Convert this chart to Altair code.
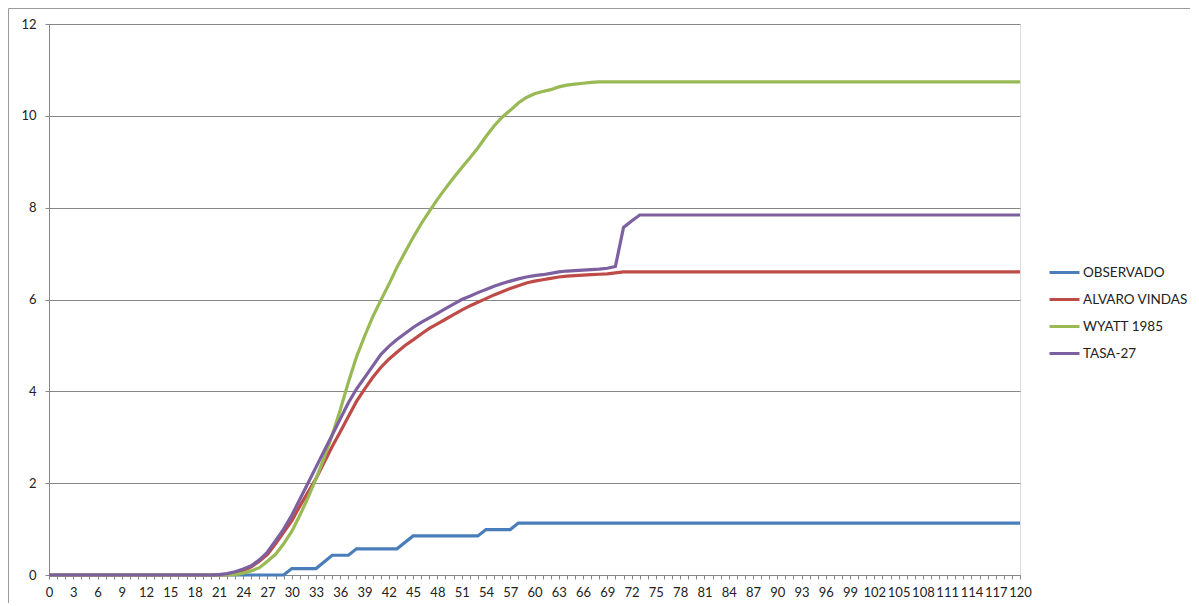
import altair as alt
import pandas as pd

SERIES = ["OBSERVADO", "ALVARO VINDAS", "WYATT 1985", "TASA-27"]
COLORS = ["#4A7EBB", "#BE4B48", "#98B954", "#7D60A0"]

obs_x = [0, 29, 30, 33, 35, 37, 38, 43, 45, 53, 54, 57, 58, 120]
obs_y = [0, 0, 0.14, 0.14, 0.43, 0.43, 0.57, 0.57, 0.85, 0.85, 0.99, 0.99, 1.13, 1.13]

alv_x = [0, 21, 22, 23, 24, 25, 26, 27, 28, 29, 30, 31, 32, 33, 34, 35, 36, 37, 38, 39,
         40, 41, 42, 43, 44, 45, 46, 47, 48, 49, 50, 51, 52, 53, 54, 55, 56, 57, 58, 59,
         60, 61, 62, 63, 64, 65, 66, 67, 68, 69, 70, 71, 120]
alv_y = [0, 0, 0.01, 0.04, 0.1, 0.18, 0.3, 0.45, 0.68, 0.93, 1.18, 1.5, 1.8, 2.1, 2.45, 2.8, 3.12, 3.45, 3.78, 4.05,
         4.3, 4.52, 4.7, 4.85, 5.0, 5.12, 5.25, 5.37, 5.47, 5.57, 5.67, 5.77, 5.86, 5.94, 6.02, 6.1, 6.17, 6.24, 6.3, 6.36,
         6.4, 6.43, 6.46, 6.49, 6.51, 6.52, 6.53, 6.54, 6.55, 6.56, 6.58, 6.6, 6.6]

wya_x = [0, 22, 23, 24, 25, 26, 27, 28, 29, 30, 31, 32, 33, 34, 35, 36, 37, 38, 39,
         40, 41, 42, 43, 44, 45, 46, 47, 48, 49, 50, 51, 52, 53, 54, 55, 56, 57, 58, 59,
         60, 61, 62, 63, 64, 65, 66, 67, 68, 120]
wya_y = [0, 0, 0.01, 0.04, 0.09, 0.16, 0.3, 0.45, 0.68, 0.95, 1.3, 1.68, 2.1, 2.55, 3.05, 3.6, 4.2, 4.75, 5.2,
         5.62, 5.98, 6.33, 6.7, 7.03, 7.35, 7.65, 7.92, 8.18, 8.42, 8.65, 8.87, 9.08, 9.3, 9.55, 9.78, 9.97, 10.12, 10.28, 10.4,
         10.48, 10.53, 10.57, 10.63, 10.67, 10.69, 10.71, 10.73, 10.74, 10.74]

tas_x = [0, 20, 21, 22, 23, 24, 25, 26, 27, 28, 29, 30, 31, 32, 33, 34, 35, 36, 37, 38, 39,
         40, 41, 42, 43, 44, 45, 46, 47, 48, 49, 50, 51, 52, 53, 54, 55, 56, 57, 58, 59,
         60, 61, 62, 63, 64, 65, 66, 67, 68, 69, 70, 71, 72, 73, 120]
tas_y = [0, 0, 0.01, 0.03, 0.07, 0.13, 0.2, 0.33, 0.5, 0.75, 1.0, 1.3, 1.65, 2.0, 2.35, 2.7, 3.05, 3.4, 3.75, 4.05, 4.3,
         4.55, 4.8, 4.98, 5.13, 5.26, 5.39, 5.5, 5.6, 5.7, 5.8, 5.9, 6.0, 6.07, 6.15, 6.22, 6.29, 6.35, 6.4, 6.45, 6.49,
         6.52, 6.54, 6.57, 6.6, 6.62, 6.63, 6.64, 6.65, 6.66, 6.68, 6.72, 7.57, 7.71, 7.84, 7.84]

x_ticks = list(range(0, 121))
y_ticks = [0, 2, 4, 6, 8, 10, 12]

rows = []
for name, xs, ys in [(SERIES[0], obs_x, obs_y), (SERIES[1], alv_x, alv_y),
                     (SERIES[2], wya_x, wya_y), (SERIES[3], tas_x, tas_y)]:
    for xv, yv in zip(xs, ys):
        rows.append({"t": xv, "v": yv, "serie": name})
df = pd.DataFrame(rows)

FONT = "Lato"
GRID = "#868686"

W, H = 971, 551
PL, PT, PR, PB = 41, 16, 170, 28

lines = alt.Chart(df).mark_line(strokeWidth=3.2, clip=False).encode(
    x=alt.X("t:Q", scale=alt.Scale(domain=[0, 120], nice=False, zero=False),
            axis=alt.Axis(title=None, values=x_ticks, grid=False,
                          labelExpr="datum.value % 3 == 0 ? datum.label : ''",
                          labelOverlap=False, labelFlush=False, labelPadding=7,
                          tickSize=4, tickColor=GRID, domainColor=GRID,
                          labelFont=FONT, labelFontSize=13, labelColor="#222")),
    y=alt.Y("v:Q", scale=alt.Scale(domain=[0, 12], nice=False),
            axis=alt.Axis(title=None, values=y_ticks, grid=True, gridColor=GRID,
                          gridOpacity=1, tickSize=4, tickColor=GRID, domainColor=GRID,
                          labelPadding=9, labelFont=FONT, labelFontSize=13,
                          labelColor="#222")),
    color=alt.Color("serie:N", scale=alt.Scale(domain=SERIES, range=COLORS),
                    legend=alt.Legend(title=None, orient="none", legendX=999, legendY=232,
                                      symbolType="stroke", symbolSize=900,
                                      symbolStrokeWidth=3, labelFont=FONT,
                                      labelFontSize=13.5, labelColor="#222",
                                      labelOffset=2, rowPadding=4)),
    order=alt.Order("t:Q"),
)

border = alt.Chart(pd.DataFrame({"k": [0]})).mark_rect(
    fill=None, fillOpacity=0, stroke="#9a9a9a", strokeWidth=1, clip=False
).encode(
    x=alt.value(-PL + 0.5), x2=alt.value(W + PR + 20),
    y=alt.value(-PT + 0.5), y2=alt.value(H + PB + 40),
)

chart = alt.layer(border, lines).properties(
    width=W, height=H,
    autosize=alt.AutoSizeParams(type="none"),
    padding={"left": PL, "top": PT, "right": PR, "bottom": PB},
).configure_view(stroke=None).configure(background="white")

chart.save("out.html", embed_options={"renderer": "svg", "actions": False})
